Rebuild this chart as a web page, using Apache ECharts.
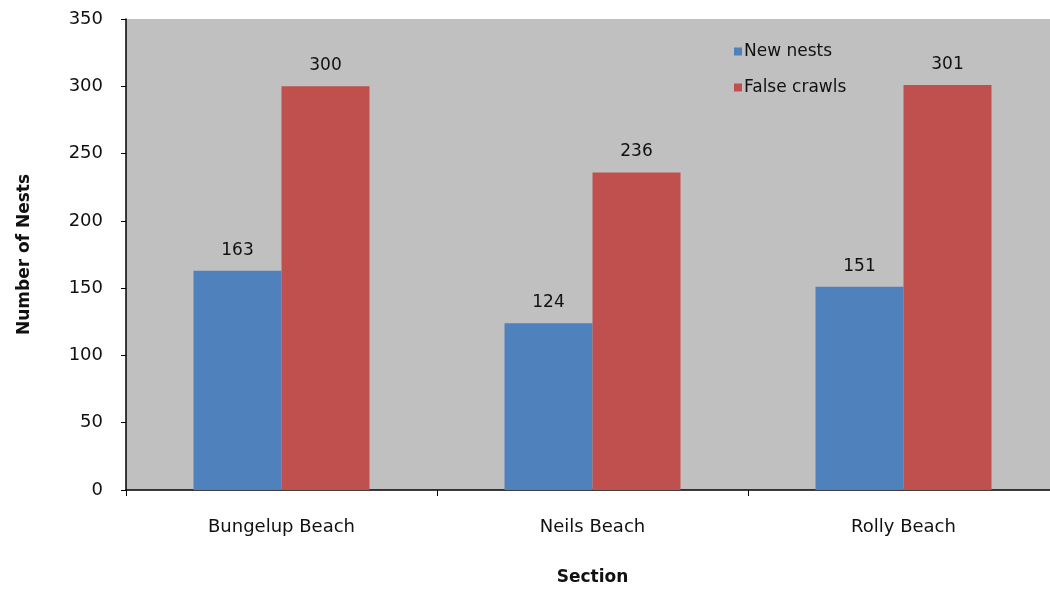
<!DOCTYPE html>
<html>
<head>
<meta charset="utf-8">
<script src="https://cdn.jsdelivr.net/npm/echarts@6/dist/echarts.min.js"></script>
<style>
  html, body { margin: 0; padding: 0; background: #fff; overflow: hidden; width: 1050px; height: 591px; }
  /* the plot runs a little past the right edge of the page */
  #chart { width: 1060px; height: 591px; }
</style>
</head>
<body>
<div id="chart"></div>
<script>
// Nesting activity per beach section
const sections = ['Bungelup Beach', 'Neils Beach', 'Rolly Beach'];
const newNests = [163, 124, 151];
const falseCrawls = [300, 236, 301];
const yTicks = { min: 0, max: 350, interval: 50 };

const FONT = '"DejaVu Sans", Verdana, sans-serif';
const chart = echarts.init(document.getElementById('chart'));

const labelStyle = {
  show: true,
  position: 'top',
  distance: 12,
  color: '#111',
  fontFamily: FONT,
  fontSize: 17
};

chart.setOption({
  animation: false,
  grid: {
    left: 126, top: 19, right: 1, bottom: 101,
    show: true,
    backgroundColor: '#c0c0c0',
    borderWidth: 0
  },
  legend: {
    orient: 'vertical',
    left: 729,
    top: 38,
    itemWidth: 8,
    itemHeight: 8,
    itemGap: 19,
    icon: 'rect',
    textStyle: { color: '#111', fontFamily: FONT, fontSize: 17, padding: [0, 0, 0, -3] },
    data: ['New nests', 'False crawls']
  },
  xAxis: {
    type: 'category',
    data: sections,
    name: 'Section',
    nameLocation: 'middle',
    nameGap: 79,
    nameTextStyle: { color: '#111', fontFamily: FONT, fontSize: 17, fontWeight: 'bold' },
    axisLine: { lineStyle: { color: '#000', width: 1.5 } },
    axisTick: { show: true, length: 6, alignWithLabel: false, lineStyle: { color: '#000' } },
    axisLabel: { color: '#111', fontFamily: FONT, fontSize: 18, margin: 28 }
  },
  yAxis: {
    type: 'value',
    min: yTicks.min,
    max: yTicks.max,
    interval: yTicks.interval,
    name: 'Number of Nests',
    nameLocation: 'middle',
    nameGap: 93,
    nameRotate: 90,
    nameTextStyle: { color: '#111', fontFamily: FONT, fontSize: 17, fontWeight: 'bold' },
    axisLine: { show: true, lineStyle: { color: '#000', width: 1.5 } },
    axisTick: { show: true, length: 5, lineStyle: { color: '#000' } },
    axisLabel: { color: '#111', fontFamily: FONT, fontSize: 18, margin: 23 },
    splitLine: { show: false }
  },
  series: [
    {
      name: 'New nests',
      type: 'bar',
      data: newNests,
      barWidth: 88,
      barGap: '0%',
      itemStyle: { color: '#4f81bd' },
      label: labelStyle
    },
    {
      name: 'False crawls',
      type: 'bar',
      data: falseCrawls,
      barWidth: 88,
      barGap: '0%',
      itemStyle: { color: '#c0504d' },
      label: labelStyle
    }
  ]
});
</script>
</body>
</html>
